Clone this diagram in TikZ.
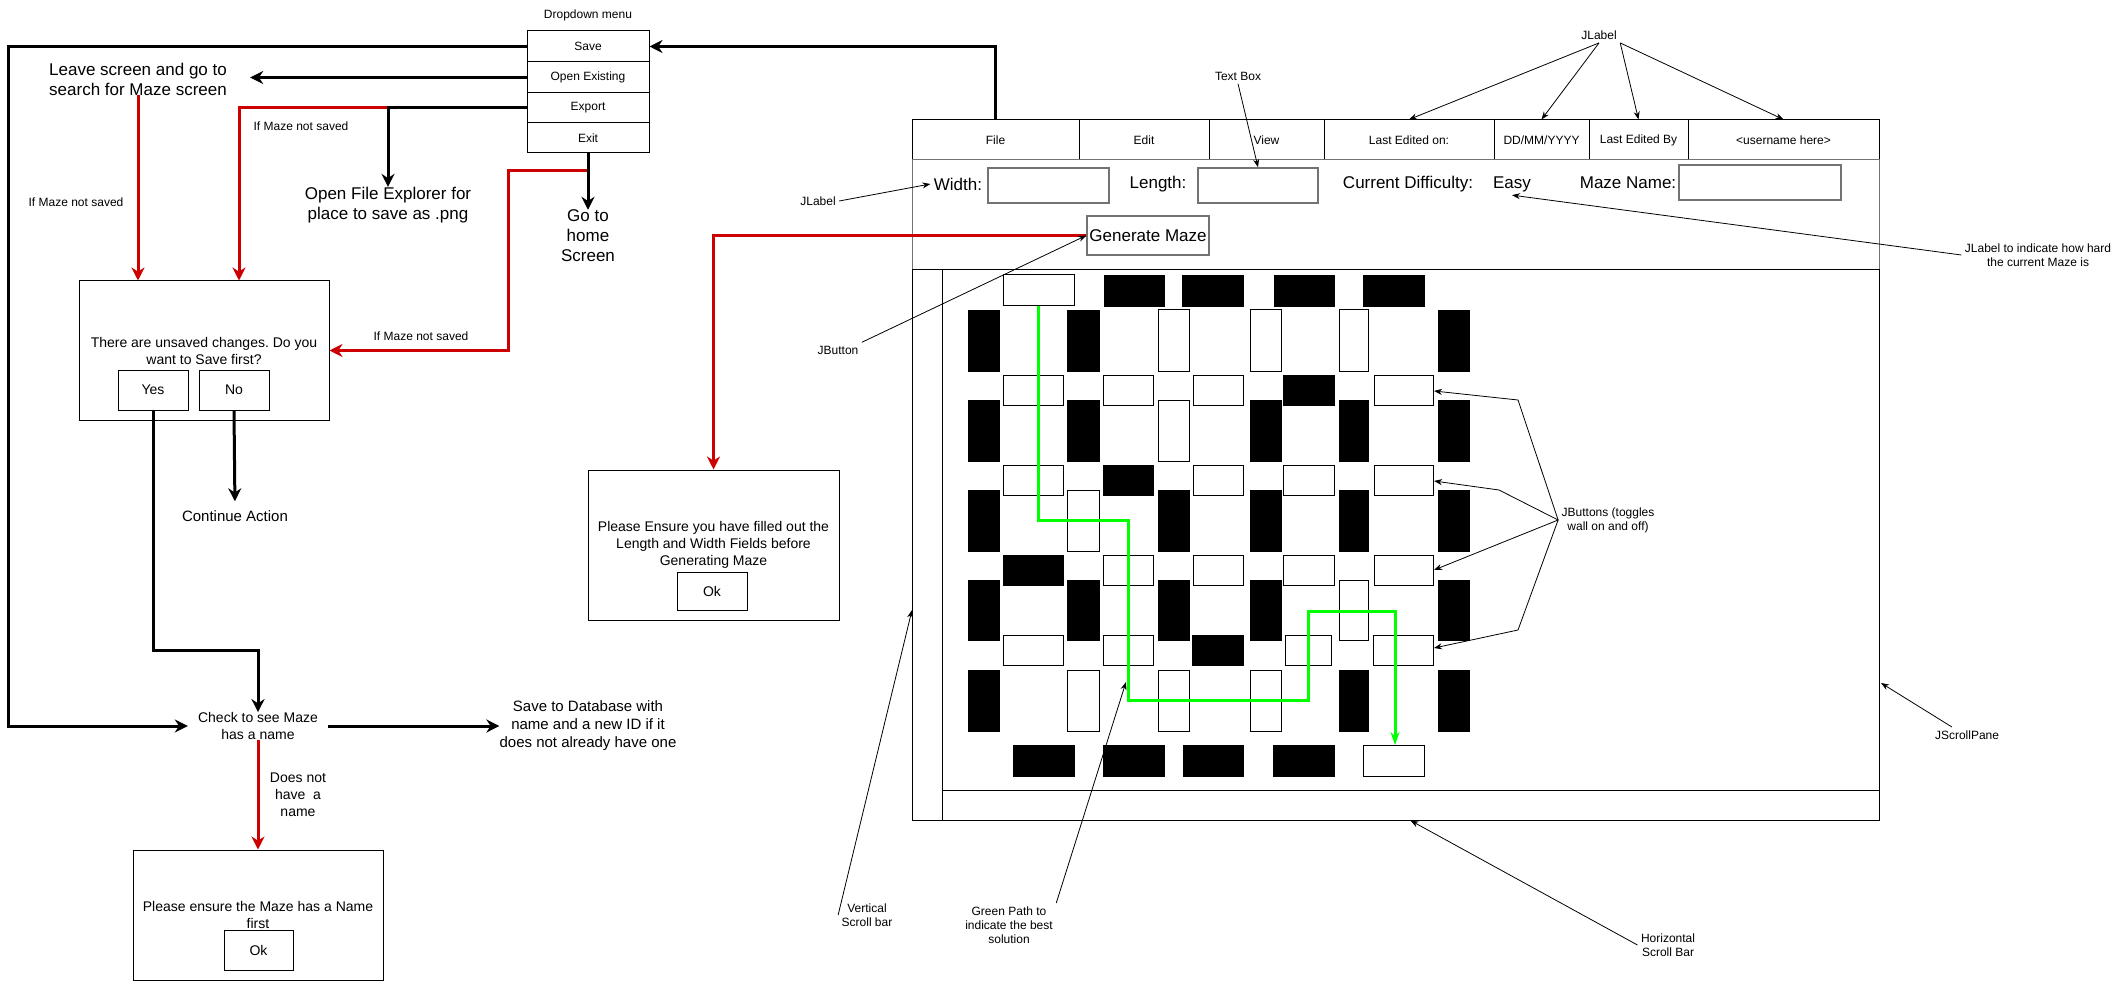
\documentclass[tikz,border=0pt]{standalone}
\usepackage{fontspec}
\setmainfont{Liberation Sans}
\usetikzlibrary{arrows.meta}
\frenchspacing

\definecolor{flowred}{HTML}{CC0000}
\definecolor{pathgreen}{HTML}{00FF00}

\begin{document}
\begin{tikzpicture}[x=1pt,y=-1pt, every node/.style={align=center},
  box/.style={draw,line width=1pt,inner sep=0pt},
  tbox/.style={draw=black!55,line width=1.5pt,inner sep=0pt},
  fsmall/.style={font=\fontsize{12}{14}\selectfont},
  fmid/.style={font=\fontsize{14}{17}\selectfont},
  fnorm/.style={font=\fontsize{15}{18}\selectfont},
  fbig/.style={font=\fontsize{17}{20}\selectfont},
  flowline/.style={line width=3pt,-{Stealth[length=13pt,width=13pt]}},
  redline/.style={flowline,draw=flowred},
  noteline/.style={line width=0.8pt,-{Stealth[length=8pt,width=6pt]}},
  wallon/.style={draw=black,fill=black},
  walloff/.style={draw=black,fill=white,line width=1pt},
  solpath/.style={draw=pathgreen,line width=3pt,-{Stealth[length=13pt,width=9pt]}}]
  \useasboundingbox (0,0) rectangle (2119,981);

  % -=-=-=-=- DROPDOWN MENU -=-=-=-=-
  \node[fsmall] (ddtitle) at (588,15) {Dropdown menu};
  \node[box,fsmall,minimum width=122,minimum height=31] (save) at (588,46.5) {Save};
  \node[box,fsmall,minimum width=122,minimum height=31] (openex) at (588,77.5) {Open Existing};
  \node[box,fsmall,minimum width=122,minimum height=30] (export) at (588,108) {Export};
  \node[box,fsmall,minimum width=122,minimum height=30] (exit) at (588,138) {Exit};

  % -=-=-=-=- WHERE THE MENU LEADS -=-=-=-=-
  \node[fbig,inner sep=0pt,minimum width=224] (leave) at (138,79) {Leave screen and go to\\search for Maze screen};
  \node[fbig,inner sep=0pt] (explorer) at (388,205) {Open File Explorer for\\place to save as .png};
  \node[fbig,inner sep=0pt] (home) at (588,236) {Go to\\home\\Screen};
  \node[fsmall] (notsavedA) at (76,202) {If Maze not saved};
  \node[fsmall] (notsavedB) at (301,126) {If Maze not saved};
  \node[fsmall] (notsavedC) at (421,336) {If Maze not saved};

  \node[box,fmid,minimum width=250,minimum height=139] (unsaved) at (204,350.5) {There are unsaved changes. Do you\\want to Save first?};
  \node[box,fmid,minimum width=70,minimum height=40] (yes) at (153,390) {Yes};
  \node[box,fmid,minimum width=70,minimum height=40] (no) at (234,390) {No};
  \node[fnorm,inner sep=0pt] (cont) at (235,516) {Continue Action};

  \node[fmid,inner sep=0pt,minimum width=140] (check) at (258,726) {Check to see Maze\\has a name};
  \node[fnorm,inner sep=0pt] (savedb) at (588,726) {Save to Database with\\name and a new ID if it\\does not already have one};
  \node[fmid] (nonamelbl) at (298,795) {Does not\\have\ \ a\\name};
  \node[box,fmid,minimum width=250,minimum height=130] (noname) at (258,915) {Please ensure the Maze has a Name\\first};
  \node[box,fmid,minimum width=69,minimum height=40] (okname) at (258.5,950) {Ok};

  \coordinate (leftcorner) at (8,46.5);
  \coordinate (expbend) at (388,108);
  \coordinate (expred) at (239,108);
  \coordinate (exitred) at (588,171);
  \coordinate (exitbend) at (508,171);
  \coordinate (yesbend) at (153,650);

  \draw[redline] (expbend) -- (expred) -- (expred |- unsaved.north);
  \draw[redline] (leave.south) -- (leave.south |- unsaved.north);
  \draw[redline] (exitred) -- (exitbend) |- (unsaved.east);
  \draw[flowline] (save.west) -- (leftcorner) |- (check.west);
  \draw[flowline] (openex.west) -- (openex.west -| leave.east);
  \draw[flowline] (export.west) -- (expbend) -- (explorer.north);
  \draw[flowline] (exit.south) -- (home.north);
  \draw[flowline,shorten >=9pt] (no.south) -- (cont.north);
  \draw[flowline] (yes.south) -- (yesbend) -| (check.north);
  \draw[flowline] (check.east) -- (savedb.west);
  \draw[redline] (check.south) -- (noname.north);

  % -=-=-=-=- MAZE EDITOR WINDOW -=-=-=-=-
  \node[box,fsmall,minimum width=167,minimum height=40] (file) at (995.5,140) {File};
  \node[box,fsmall,minimum width=130,minimum height=40] (edit) at (1144,140) {Edit};
  \node[box,fsmall,minimum width=115,minimum height=40] (view) at (1266.5,140) {View};
  \node[box,fsmall,minimum width=170,minimum height=40] (lasted) at (1409,140) {Last Edited on:};
  \node[box,fsmall,minimum width=95,minimum height=40] (date) at (1541.5,140) {DD/MM/YYYY};
  \node[box,fsmall,minimum width=99,minimum height=40] (lastby) at (1638.5,140) {Last Edited By};
  \node[box,fsmall,minimum width=191,minimum height=40] (user) at (1783.5,140) {\textless username here\textgreater};
  \draw[flowline] (file.north) |- (save.east);

  \node[draw=black!55,line width=1pt,minimum width=967,minimum height=110] (toppanel) at (1395.5,215) {};
  \node[fbig] (widthlbl) at (958,184) {Width:};
  \node[tbox,minimum width=121,minimum height=35] (widthbox) at (1048.5,185.5) {};
  \node[fbig] (lengthlbl) at (1158,184) {Length:};
  \node[tbox,minimum width=120,minimum height=35] (lengthbox) at (1258,185.5) {};
  \node[fbig] (difflbl) at (1408,184) {Current Difficulty:};
  \node[fbig] (easy) at (1512,184) {Easy};
  \node[fbig] (namelbl) at (1628,183) {Maze Name:};
  \node[tbox,minimum width=162,minimum height=35] (namebox) at (1760,182.5) {};
  \node[tbox,fbig,minimum width=122,minimum height=39] (generate) at (1148,235.5) {Generate Maze};

  \node[box,minimum width=937,minimum height=550] (pane) at (1410.5,545) {};
  \node[box,minimum width=30,minimum height=550] (vscroll) at (927,545) {};
  \node[box,minimum width=937,minimum height=30] (hscroll) at (1410.5,805) {};

  % maze walls, row by row
  \foreach \xa/\xb/\s in {1003/1074/walloff,1104/1164/wallon,1182/1243/wallon,1274/1334/wallon,1363/1424/wallon}
    \draw[\s] (\xa,275) rectangle (\xb,306);
  \foreach \xa/\xb/\s in {968/999/wallon,1067/1099/wallon,1158/1189/walloff,1250/1281/walloff,1339/1368/walloff,1438/1469/wallon}
    \draw[\s] (\xa,310) rectangle (\xb,371);
  \foreach \xa/\xb/\s in {1003/1063/walloff,1103/1153/walloff,1193/1243/walloff,1283/1334/wallon,1374/1433/walloff}
    \draw[\s] (\xa,375) rectangle (\xb,405);
  \foreach \xa/\xb/\s in {968/999/wallon,1067/1099/wallon,1158/1189/walloff,1250/1281/wallon,1339/1368/wallon,1438/1469/wallon}
    \draw[\s] (\xa,400) rectangle (\xb,461);
  \foreach \xa/\xb/\s in {1003/1063/walloff,1103/1153/wallon,1193/1243/walloff,1283/1334/walloff,1374/1433/walloff}
    \draw[\s] (\xa,465) rectangle (\xb,495);
  \foreach \xa/\xb/\s in {968/999/wallon,1067/1099/walloff,1158/1189/wallon,1250/1281/wallon,1339/1368/wallon,1438/1469/wallon}
    \draw[\s] (\xa,490) rectangle (\xb,551);
  \foreach \xa/\xb/\s in {1003/1063/wallon,1103/1153/walloff,1193/1243/walloff,1283/1334/walloff,1374/1433/walloff}
    \draw[\s] (\xa,555) rectangle (\xb,585);
  \foreach \xa/\xb/\s in {968/999/wallon,1067/1099/wallon,1158/1189/wallon,1250/1281/wallon,1339/1368/walloff,1438/1469/wallon}
    \draw[\s] (\xa,580) rectangle (\xb,640);
  \foreach \xa/\xb/\s in {1003/1063/walloff,1103/1153/walloff,1192/1243/wallon,1285/1331/walloff,1373/1433/walloff}
    \draw[\s] (\xa,635) rectangle (\xb,665);
  \foreach \xa/\xb/\s in {968/999/wallon,1067/1099/walloff,1158/1189/walloff,1250/1281/walloff,1339/1368/wallon,1438/1469/wallon}
    \draw[\s] (\xa,670) rectangle (\xb,731);
  \foreach \xa/\xb/\s in {1013/1074/wallon,1103/1164/wallon,1183/1243/wallon,1273/1334/wallon,1363/1424/walloff}
    \draw[\s] (\xa,745) rectangle (\xb,776);

  % best solution
  \draw[solpath] (1038,306) -- (1038,520) -- (1128,520) -- (1128,700) -- (1308,700) -- (1308,611) -- (1395,611) -- (1395,745);

  % -=-=-=-=- MISSING FIELDS POPUP -=-=-=-=-
  \node[box,fmid,minimum width=251,minimum height=150] (ensure) at (713.5,545) {Please Ensure you have filled out the\\Length and Width Fields before\\Generating Maze};
  \node[box,fmid,minimum width=70,minimum height=38] (okfields) at (712,591) {Ok};
  \draw[redline] (generate.west) -| (ensure.north);

  % -=-=-=-=- ANNOTATIONS -=-=-=-=-
  \node[fsmall] (textboxlbl) at (1238,76) {Text Box};
  \draw[noteline] (textboxlbl.south) -- (lengthbox.north);
  \node[fsmall] (jlabeltop) at (1599,35) {JLabel};
  \draw[noteline] (jlabeltop.south) -- (lasted.north);
  \draw[noteline] (jlabeltop.south) -- (date.north);
  \draw[noteline] (jlabeltop.south east) -- (lastby.north);
  \draw[noteline] (jlabeltop.south east) -- (user.north);
  \node[fsmall] (jlabelleft) at (818,201) {JLabel};
  \draw[noteline] (jlabelleft.east) -- (widthlbl.west);
  \node[fsmall] (hardlbl) at (2038,255) {JLabel to indicate how hard\\the current Maze is};
  \draw[noteline] (hardlbl.west) -- (easy.south);
  \node[fsmall] (jbuttonlbl) at (838,350) {JButton};
  \draw[noteline] (jbuttonlbl.north east) -- (generate.west);

  \node[fsmall] (togglelbl) at (1608,520) {JButtons (toggles\\wall on and off)};
  \coordinate (tgA) at (1434,391);
  \coordinate (tgB) at (1434,481);
  \coordinate (tgC) at (1434,570);
  \coordinate (tgD) at (1434,648);
  \coordinate (bendA) at (1518,400);
  \coordinate (bendB) at (1499,490);
  \coordinate (bendD) at (1518,630);
  \draw[noteline] (togglelbl.west) -- (bendA) -- (tgA);
  \draw[noteline] (togglelbl.west) -- (bendB) -- (tgB);
  \draw[noteline] (togglelbl.west) -- (tgC);
  \draw[noteline] (togglelbl.west) -- (bendD) -- (tgD);

  \node[fsmall] (vscrolllbl) at (867,915) {Vertical\\Scroll bar};
  \coordinate (vsTarget) at (912,610);
  \draw[noteline] (vscrolllbl.west) -- (vsTarget);
  \node[fsmall] (greenlbl) at (1009,925) {Green Path to\\indicate the best\\solution};
  \coordinate (gpTarget) at (1126,682);
  \draw[noteline] (greenlbl.north east) -- (gpTarget);
  \node[fsmall] (hscrolllbl) at (1668,945) {Horizontal\\Scroll Bar};
  \draw[noteline] (hscrolllbl.west) -- (hscroll.south);
  \node[fsmall] (panelbl) at (1967,735) {JScrollPane};
  \coordinate (spTarget) at (1881,683);
  \draw[noteline] ([xshift=-15pt]panelbl.north) -- (spTarget);
\end{tikzpicture}
\end{document}
